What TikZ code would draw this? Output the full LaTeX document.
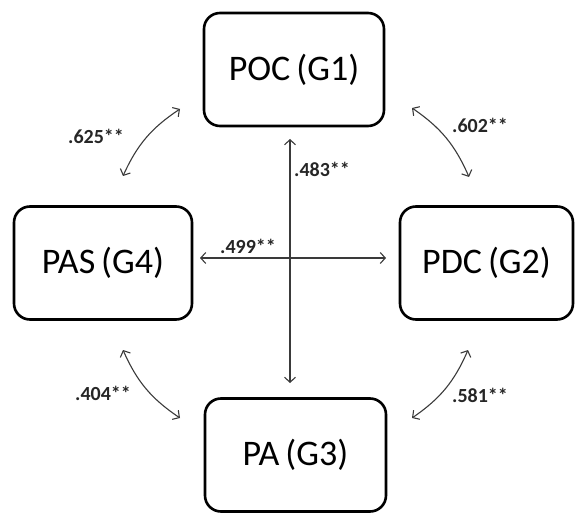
\documentclass[tikz,border=0pt]{standalone}
\usepackage{fontspec}
\setmainfont{Carlito}
\usetikzlibrary{arrows.meta}
\definecolor{linegray}{HTML}{3A3A3A}
\begin{document}
\begin{tikzpicture}[x=1pt,y=-1pt,
  factor/.style={draw=black, line width=2.6pt, rounded corners=16pt,
    minimum height=113pt, inner sep=0pt, font=\fontsize{36}{36}\selectfont},
  corr/.style={draw=linegray, line width=1.1pt,
    {Straight Barb[length=5pt,width=11pt]}-{Straight Barb[length=5pt,width=11pt]}},
  coef/.style={font=\bfseries\fontsize{20}{20}\selectfont, inner sep=0pt, text=black!85}]
\useasboundingbox (0,0) rectangle (576,513);

% the four factor boxes
\node[factor, minimum width=180pt] (poc) at (294,69.5) {POC\,(G1)};
\node[factor, minimum width=178pt] (pas) at (103,263) {PAS\,(G4)};
\node[factor, minimum width=173pt] (pdc) at (486.5,263) {PDC\,(G2)};
\node[factor, minimum width=181pt] (pa) at (295.5,455) {PA\,(G3)};

% free ends of the correlation arrows
\coordinate (tlA) at (180,109);  \coordinate (tlB) at (123,176);
\coordinate (trA) at (412,108);  \coordinate (trB) at (469,177);
\coordinate (blA) at (123,350);  \coordinate (blB) at (180,418);
\coordinate (brA) at (468,350);  \coordinate (brB) at (412,418);
\coordinate (hL) at (200,258);   \coordinate (hR) at (386,258);
\coordinate (vT) at (290,139);   \coordinate (vB) at (290,383);

% curved correlations between neighbouring factors
\draw[corr] (tlA) to[bend right=16] (tlB);
\draw[corr] (trA) to[bend left=16] (trB);
\draw[corr] (blA) to[bend right=16] (blB);
\draw[corr] (brA) to[bend left=16] (brB);

% straight correlations across the middle
\draw[corr] (hL) -- (hR);
\draw[corr] (vT) -- (vB);

% coefficients
\node[coef] (c625) at (96,136) {.625**};
\node[coef] (c602) at (480,125) {.602**};
\node[coef] (c404) at (103,393) {.404**};
\node[coef] (c581) at (480,395) {.581**};
\node[coef] (c483) at (322,169) {.483**};
\node[coef] (c499) at (248,246) {.499**};
\end{tikzpicture}
\end{document}
